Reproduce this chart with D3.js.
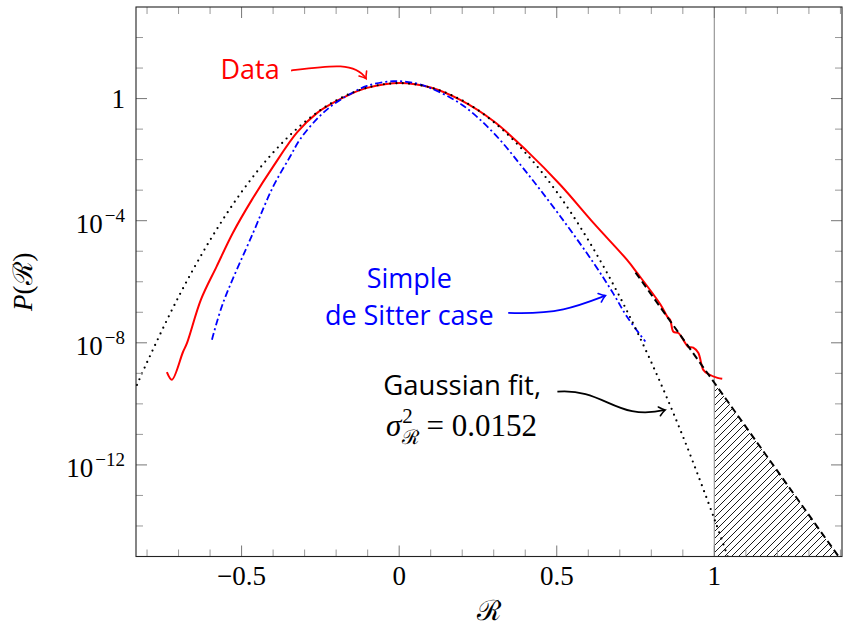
<!DOCTYPE html>
<html>
<head>
<meta charset="utf-8">
<script src="https://cdn.jsdelivr.net/npm/d3@7"></script>
<style>
  body { margin: 0; background: #fff; }
  .serif { font-family: "Liberation Serif", "DejaVu Serif", serif; }
  .sans { font-family: "Open Sans", "DejaVu Sans", sans-serif; }
</style>
</head>
<body>
<script>
// values (R, P(R))
let gaussR = [-0.84, -0.8, -0.7, -0.6, -0.5, -0.4, -0.3, -0.2, -0.1, 0, 0.1, 0.2, 0.3, 0.4, 0.5, 0.6, 0.7, 0.8, 0.9, 1.0, 1.05];
let gaussP = [2.7e-10, 2.3e-9, 3.2e-7, 2.3e-5, 8.7e-4, 1.7e-2, 0.17, 0.87, 2.3, 3.2, 2.3, 0.87, 0.17, 1.7e-2, 8.7e-4, 2.3e-5, 3.2e-7, 2.3e-9, 8.7e-12, 1.7e-14, 5.8e-16];

let dataR = [-0.737, -0.721, -0.686, -0.673, -0.629, -0.579, -0.527, -0.467, -0.400, -0.324, -0.260, -0.210, -0.156, -0.102, 0.003, 0.100, 0.194, 0.300, 0.406, 0.511, 0.617, 0.723, 0.755, 0.829, 0.851, 0.860, 0.870, 0.886, 0.917, 0.933, 0.949, 0.965, 0.981, 1.010, 1.025];
let dataP = [1.1e-9, 6.2e-10, 5.0e-9, 1.0e-8, 2.6e-7, 3.2e-6, 4.1e-5, 4.9e-4, 5.9e-3, 7.8e-2, 0.34, 0.72, 1.38, 2.24, 3.25, 2.3, 0.9, 0.18, 1.9e-2, 1.5e-3, 8.3e-5, 5.2e-6, 1.95e-6, 1.8e-7, 7.1e-8, 5.6e-8, 2.3e-8, 2.1e-8, 7.4e-9, 6.9e-9, 4.7e-9, 1.3e-9, 9.5e-10, 7.1e-10, 6.6e-10];

let deSitterR = [-0.594, -0.559, -0.463, -0.400, -0.346, -0.314, -0.260, -0.210, -0.156, -0.102, -0.019, 0.050, 0.100, 0.200, 0.300, 0.406, 0.511, 0.617, 0.680, 0.723, 0.781];
let deSitterP = [1.26e-8, 2.0e-7, 4.1e-5, 1.3e-3, 1.26e-2, 4.7e-2, 0.22, 0.63, 1.4, 2.6, 3.7, 3.2, 2.2, 0.62, 7.4e-2, 3.6e-3, 1.4e-4, 4.1e-6, 4.0e-7, 7.1e-8, 1.1e-8];

let tailR = [0.75, 1.0, 1.41];
let tailP = [2.0e-6, 4.9e-10, 5.9e-16];

let xTicks = [-0.5, 0, 0.5, 1];
let xTickLabels = ["\u22120.5", "0", "0.5", "1"];
let yTicks = [1, 1e-4, 1e-8, 1e-12];
let yTickExps = ["", "\u22124", "\u22128", "\u221212"];

let width = 844;
let height = 628;
let plot = {left: 136, right: 842, top: 7, bottom: 556.5};

let svg = d3.select("body").append("svg")
            .attr("width", width)
            .attr("height", height);

let x = d3.scaleLinear().domain([-0.835, 1.405]).range([plot.left, plot.right]);
let y = d3.scaleLog().domain([1e-15, 1e3]).range([plot.bottom, plot.top]);

let defs = svg.append("defs");
defs.append("clipPath").attr("id", "clip")
    .append("rect")
    .attr("x", plot.left).attr("y", plot.top)
    .attr("width", plot.right - plot.left).attr("height", plot.bottom - plot.top);

let hatch = defs.append("pattern").attr("id", "hatch")
    .attr("patternUnits", "userSpaceOnUse")
    .attr("width", 7).attr("height", 7);
hatch.append("path")
     .attr("d", "M-1,8 L8,-1 M-1,1 L1,-1 M6,8 L8,6")
     .attr("stroke", "#000").attr("stroke-width", 0.9);

function arrowMarker(id, color) {
  defs.append("marker").attr("id", id)
      .attr("markerUnits", "userSpaceOnUse")
      .attr("viewBox", "-8 -6 10 12")
      .attr("refX", 0).attr("refY", 0)
      .attr("markerWidth", 10).attr("markerHeight", 12)
      .attr("orient", "auto")
    .append("path")
      .attr("d", "M-6,-4.5 Q-2,-1 0,0 Q-2,1 -6,4.5")
      .attr("fill", "none").attr("stroke", color)
      .attr("stroke-width", 1.6).attr("stroke-linecap", "round");
}
arrowMarker("arrRed", "red");
arrowMarker("arrBlue", "blue");
arrowMarker("arrBlack", "black");

let line = d3.line()
    .x(d => x(d[0]))
    .y(d => y(d[1]))
    .curve(d3.curveCatmullRom.alpha(0.5));

let curves = svg.append("g").attr("clip-path", "url(#clip)");

// hatched tail beyond R = 1
let tail = d3.zip(tailR, tailP).filter(d => d[0] >= 1);
curves.append("path")
      .attr("d", d3.area().x(d => x(d[0])).y0(plot.bottom).y1(d => y(d[1]))(tail))
      .attr("fill", "url(#hatch)");

curves.append("line")
      .attr("x1", x(1)).attr("x2", x(1))
      .attr("y1", plot.top).attr("y2", plot.bottom)
      .attr("stroke", "#a0a0a0").attr("stroke-width", 1.3);

curves.append("path")
      .datum(d3.zip(dataR, dataP))
      .attr("d", line)
      .attr("fill", "none").attr("stroke", "red").attr("stroke-width", 2)
      .attr("stroke-linejoin", "miter");

curves.append("path")
      .datum(d3.zip(deSitterR, deSitterP))
      .attr("d", line)
      .attr("fill", "none").attr("stroke", "blue").attr("stroke-width", 1.8)
      .attr("stroke-dasharray", "7 3 2 3");

curves.append("path")
      .datum(d3.zip(gaussR, gaussP))
      .attr("d", line)
      .attr("fill", "none").attr("stroke", "black").attr("stroke-width", 2.2)
      .attr("stroke-linecap", "round")
      .attr("stroke-dasharray", "0 6.3");

curves.append("path")
      .datum(d3.zip(tailR, tailP))
      .attr("d", line.curve(d3.curveLinear))
      .attr("fill", "none").attr("stroke", "black").attr("stroke-width", 2)
      .attr("stroke-dasharray", "7 4");

// ticks, inward on all four sides
let ticks = svg.append("g");
let xMinor = d3.range(-8, 15).map(i => i / 10).filter(v => !xTicks.includes(v));
let yMinor = d3.range(-14, 3).map(e => Math.pow(10, e)).filter(v => !yTicks.some(t => Math.abs(Math.log10(t) - Math.log10(v)) < 1e-6));

function tickSet(vals, len, color) {
  vals.forEach(v => {
    let px = x(v);
    ticks.append("line").attr("x1", px).attr("x2", px).attr("y1", plot.bottom).attr("y2", plot.bottom - len)
         .attr("stroke", color);
    ticks.append("line").attr("x1", px).attr("x2", px).attr("y1", plot.top).attr("y2", plot.top + len)
         .attr("stroke", color);
  });
}
function tickSetY(vals, len, color) {
  vals.forEach(v => {
    let py = y(v);
    ticks.append("line").attr("x1", plot.left).attr("x2", plot.left + len).attr("y1", py).attr("y2", py)
         .attr("stroke", color);
    ticks.append("line").attr("x1", plot.right).attr("x2", plot.right - len).attr("y1", py).attr("y2", py)
         .attr("stroke", color);
  });
}
tickSet(xMinor, 7, "#999");
tickSetY(yMinor, 7, "#999");
tickSet(xTicks, 11, "#777");
tickSetY(yTicks, 11, "#777");

svg.append("rect")
   .attr("x", plot.left).attr("y", plot.top)
   .attr("width", plot.right - plot.left).attr("height", plot.bottom - plot.top)
   .attr("fill", "none").attr("stroke", "#222").attr("stroke-width", 1.1);

// tick labels
svg.append("g").selectAll("text")
   .data(xTicks)
   .enter().append("text")
   .attr("class", "serif")
   .attr("x", d => x(d)).attr("y", 585)
   .attr("text-anchor", "middle")
   .attr("font-size", 27)
   .text((d, i) => xTickLabels[i]);

yTicks.forEach((v, i) => {
  let t = svg.append("text").attr("class", "serif")
             .attr("x", 125)
             .attr("text-anchor", "end")
             .attr("font-size", 27);
  if (yTickExps[i] === "") {
    t.attr("y", y(v) + 9).text("1");
  } else {
    t.attr("y", y(v) + 12).text("10");
    t.append("tspan").attr("dx", 2).attr("dy", -11).attr("font-size", 19).text(yTickExps[i]);
  }
});

// axis titles
svg.append("text").attr("class", "serif")
   .attr("x", (plot.left + plot.right) / 2).attr("y", 620)
   .attr("text-anchor", "middle").attr("font-size", 28)
   .text("\u211B");

let yl = svg.append("text").attr("class", "serif")
   .attr("transform", "translate(32," + ((plot.top + plot.bottom) / 2) + ") rotate(-90)")
   .attr("text-anchor", "middle").attr("font-size", 27);
yl.append("tspan").attr("font-style", "italic").text("P");
yl.append("tspan").text("(\u211B)");

// annotations
let dataArrow = [[-0.343, 8.3], [-0.219, 12.1], [-0.140, 16.3], [-0.105, 4.5]];
let blueArrow = [[0.346, 9.6e-8], [0.505, 8.3e-8], [0.568, 1.6e-7], [0.654, 3.5e-7]];
let blackArrow = [[0.502, 2.5e-10], [0.654, 3.3e-10], [0.686, 2.6e-11], [0.844, 6.3e-11]];

function drawArrow(pts, color, marker) {
  let p = d3.path();
  let s = pts.map(d => [x(d[0]), y(d[1])]);
  p.moveTo(s[0][0], s[0][1]);
  p.bezierCurveTo(s[1][0], s[1][1], s[2][0], s[2][1], s[3][0], s[3][1]);
  svg.append("path").attr("d", p.toString())
     .attr("fill", "none").attr("stroke", color).attr("stroke-width", 1.8)
     .attr("marker-end", "url(#" + marker + ")");
}
drawArrow(dataArrow, "red", "arrRed");
drawArrow(blueArrow, "blue", "arrBlue");
drawArrow(blackArrow, "black", "arrBlack");

svg.append("text").attr("class", "sans")
   .attr("x", x(-0.473)).attr("y", y(4.5))
   .attr("text-anchor", "middle").attr("font-size", 27).attr("fill", "red")
   .text("Data");

svg.append("text").attr("class", "sans")
   .attr("x", x(0.032)).attr("y", y(6.3e-7))
   .attr("text-anchor", "middle").attr("font-size", 27).attr("fill", "blue")
   .text("Simple");
svg.append("text").attr("class", "sans")
   .attr("x", x(0.032)).attr("y", y(3.9e-8))
   .attr("text-anchor", "middle").attr("font-size", 27).attr("fill", "blue")
   .text("de Sitter case");

svg.append("text").attr("class", "sans")
   .attr("x", x(0.2)).attr("y", y(2.0e-10))
   .attr("text-anchor", "middle").attr("font-size", 27.5).attr("fill", "black")
   .text("Gaussian fit,");

let sig = svg.append("text").attr("class", "serif")
   .attr("x", x(0.198)).attr("y", y(8.9e-12))
   .attr("text-anchor", "middle").attr("font-size", 31);
sig.append("tspan").attr("font-style", "italic").text("\u03C3");
sig.append("tspan").attr("dx", 1).attr("dy", -13).attr("font-size", 21).text("2");
sig.append("tspan").attr("dx", -11).attr("dy", 21).attr("font-size", 20).text("\u211B");
sig.append("tspan").attr("dy", -8).text(" = 0.0152");
</script>
</body>
</html>
